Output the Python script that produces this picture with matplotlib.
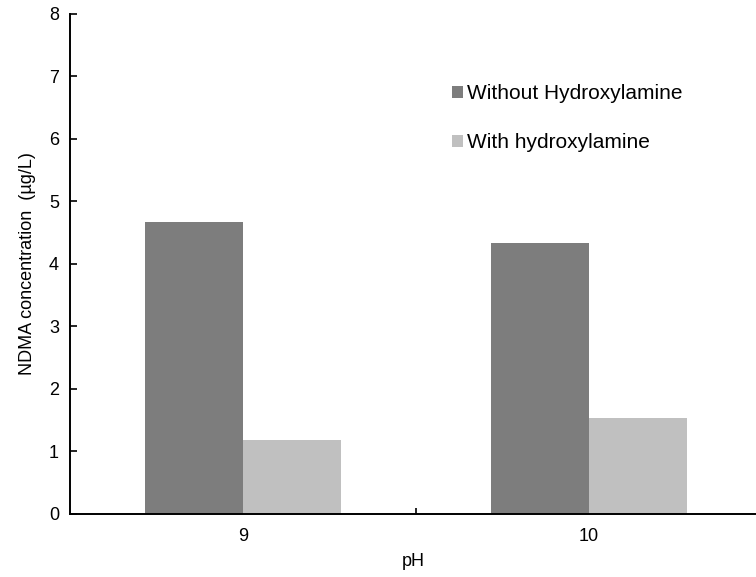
import numpy as np
import matplotlib
matplotlib.use("Agg")
import matplotlib.pyplot as plt

plt.rcParams['font.family'] = ['Liberation Sans', 'DejaVu Sans']

# data
ph_labels = ['9', '10']
without_hydroxylamine = [4.67, 4.33]
with_hydroxylamine = [1.18, 1.53]

fig = plt.figure(figsize=(7.56, 5.77), dpi=100)
ax = fig.add_axes([70/756, 63/577, 686/756, 500.4/577])

x = np.arange(len(ph_labels))
w = 0.284
ax.bar(x - w/2, without_hydroxylamine, w, color='#7d7d7d', label='Without Hydroxylamine')
ax.bar(x + w/2, with_hydroxylamine, w, color='#c0c0c0', label='With hydroxylamine')

ax.set_xlim(-0.5, 1.483)
ax.set_ylim(0, 8)
ax.set_yticks(range(0, 9))
ax.set_xticks(x)
ax.set_xticklabels(ph_labels)
# category boundary tick
ax.set_xticks([0.5], minor=True)
ax.tick_params(axis='x', which='major', length=0, labelsize=13, pad=10)
ax.tick_params(axis='x', which='minor', direction='in', length=4, width=1.2)
ax.tick_params(axis='y', direction='in', length=5, width=1.2, labelsize=13, pad=8)

for s in ['top', 'right']:
    ax.spines[s].set_visible(False)
for s in ['left', 'bottom']:
    ax.spines[s].set_linewidth(1.4)

ax.set_xlabel('pH', fontsize=13, labelpad=6)
ax.set_ylabel('NDMA concentration  (\u00b5g/L)', fontsize=13, labelpad=9)

ax.legend(loc='upper left', bbox_to_anchor=(0.557, 0.859), frameon=False,
          fontsize=15, handlelength=0.53, handleheight=0.53, handletextpad=0.2,
          labelspacing=1.45, borderpad=0, borderaxespad=0)

fig.savefig('out.png', dpi=100)
